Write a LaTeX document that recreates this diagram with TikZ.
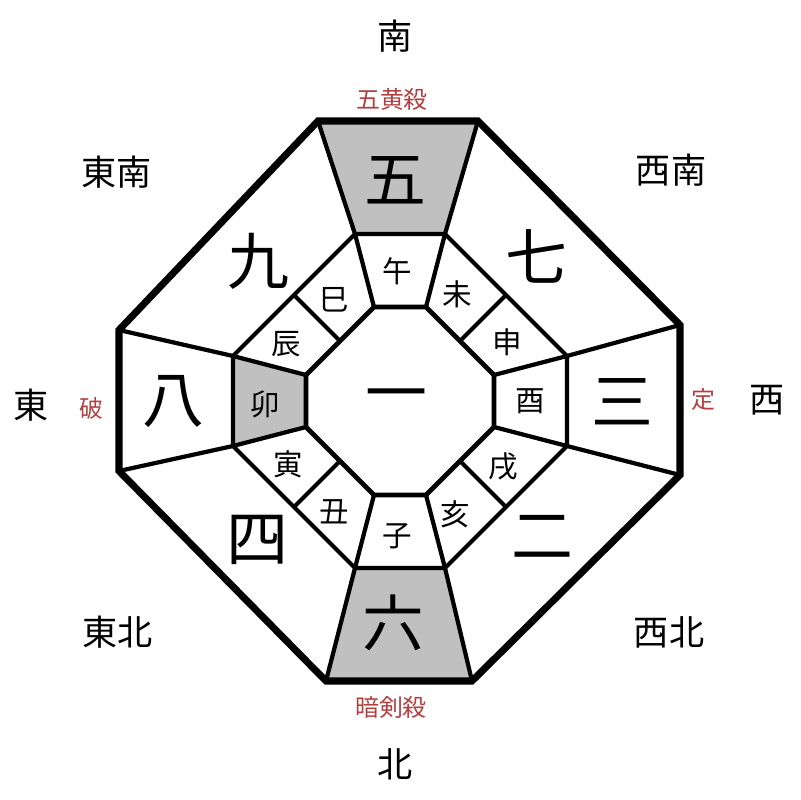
\documentclass[tikz,border=0pt]{standalone}
\usepackage{fontspec}
\setmainfont{Noto Sans CJK JP}
\usetikzlibrary{positioning}
\definecolor{cellgray}{RGB}{192,192,192}
\definecolor{omenred}{RGB}{178,64,64}

\begin{document}
\begin{tikzpicture}[x=0.025cm, y=0.025cm]
\tikzstyle{frame}=[line width=5pt, line join=miter]
\tikzstyle{ring}=[line width=3pt, line join=miter]
\tikzstyle{core}=[line width=3.3pt, line join=miter]
\tikzstyle{shaded}=[fill=cellgray]
\tikzstyle{star}=[inner sep=0pt, font=\fontsize{44}{44}\selectfont]
\tikzstyle{branch}=[inner sep=0pt, font=\fontsize{21}{21}\selectfont]
\tikzstyle{compass}=[inner sep=0pt, font=\fontsize{25}{25}\selectfont]
\tikzstyle{omen}=[inner sep=0pt, text=omenred, font=\fontsize{17}{17}\selectfont]

\useasboundingbox (-400,-399) rectangle (400,401);

% outer octagon
\coordinate (o1) at (78,280);   \coordinate (o2) at (280,76);
\coordinate (o3) at (280,-74);  \coordinate (o4) at (72,-280);
\coordinate (o5) at (-74,-280); \coordinate (o6) at (-281,-70);
\coordinate (o7) at (-281,71);  \coordinate (o8) at (-82,280);
% middle octagon
\coordinate (m1) at (45,167);   \coordinate (m2) at (167,45);
\coordinate (m3) at (167,-45);  \coordinate (m4) at (45,-167);
\coordinate (m5) at (-45,-167); \coordinate (m6) at (-167,-45);
\coordinate (m7) at (-167,45);  \coordinate (m8) at (-45,167);
% inner octagon
\coordinate (i1) at (26,94);    \coordinate (i2) at (94,26);
\coordinate (i3) at (94,-26);   \coordinate (i4) at (26,-94);
\coordinate (i5) at (-26,-94);  \coordinate (i6) at (-94,-26);
\coordinate (i7) at (-94,26);   \coordinate (i8) at (-26,94);
% split points of the diagonal cells
\coordinate (mNE) at (106,106);   \coordinate (iNE) at (60,60);
\coordinate (mSE) at (106,-106);  \coordinate (iSE) at (60,-60);
\coordinate (mSW) at (-106,-106); \coordinate (iSW) at (-60,-60);
\coordinate (mNW) at (-106,106);  \coordinate (iNW) at (-60,60);

% grey cells
\fill[shaded] (o8) -- (o1) -- (m1) -- (m8) -- cycle;
\fill[shaded] (o5) -- (o4) -- (m4) -- (m5) -- cycle;
\fill[shaded] (m7) -- (i7) -- (i6) -- (m6) -- cycle;

% lines
\foreach \k in {1,...,8}
  \draw[ring] (o\k) -- (m\k) (m\k) -- (i\k);
\draw[ring] (mNE) -- (iNE) (mSE) -- (iSE) (mSW) -- (iSW) (mNW) -- (iNW);
\draw[ring] (m1) -- (m2) -- (m3) -- (m4) -- (m5) -- (m6) -- (m7) -- (m8) -- cycle;
\draw[core] (i1) -- (i2) -- (i3) -- (i4) -- (i5) -- (i6) -- (i7) -- (i8) -- cycle;
\draw[frame] (o1) -- (o2) -- (o3) -- (o4) -- (o5) -- (o6) -- (o7) -- (o8) -- cycle;

% nine stars
\node (one) [star] at (-4,-1) {一};
\node (five) [star] at (-5,221) {五};
\node (seven) [star] at (136,145) {七};
\node (three) [star] at (222,-1) {三};
\node (two) [star] at (142,-136) {二};
\node (six) [star] at (-7,-222) {六};
\node (four) [star] at (-143,-139) {四};
\node (eight) [star] at (-227,-1) {八};
\node (nine) [star] at (-142,140) {九};

% twelve branches
\node (uma) [branch] at (-3,130) {午};
\node (hitsuji) [branch] at (57,107) {未};
\node (saru) [branch] at (107,59) {申};
\node (tori) [branch] at (130,0) {酉};
\node (inu) [branch] at (103,-66) {戌};
\node (i) [branch] at (55,-113) {亥};
\node (ne) [branch] at (-3,-135) {子};
\node (ushi) [branch] at (-66,-111) {丑};
\node (tora) [branch] at (-112,-63) {寅};
\node (u) [branch] at (-135,-3) {卯};
\node (tatsu) [branch] at (-114,57) {辰};
\node (mi) [branch] at (-66,101) {巳};

% directions
\node (south) [compass] at (-5,365) {南};
\node (north) [compass] at (-5,-363) {北};
\node (east) [compass] at (-369,-4) {東};
\node (west) [compass] at (367,1) {西};
\node (southeast) [compass] at (-283,229) {東南};
\node (southwest) [compass] at (271,231) {西南};
\node (northeast) [compass] at (-282,-231) {東北};
\node (northwest) [compass] at (269,-231) {西北};

% marks
\node (gooh) [omen] at (-8,302) {五黄殺};
\node (anken) [omen] at (-9,-306) {暗剣殺};
\node (ha) [omen] at (-309,-7) {破};
\node (jo) [omen] at (303,2) {定};
\end{tikzpicture}
\end{document}
